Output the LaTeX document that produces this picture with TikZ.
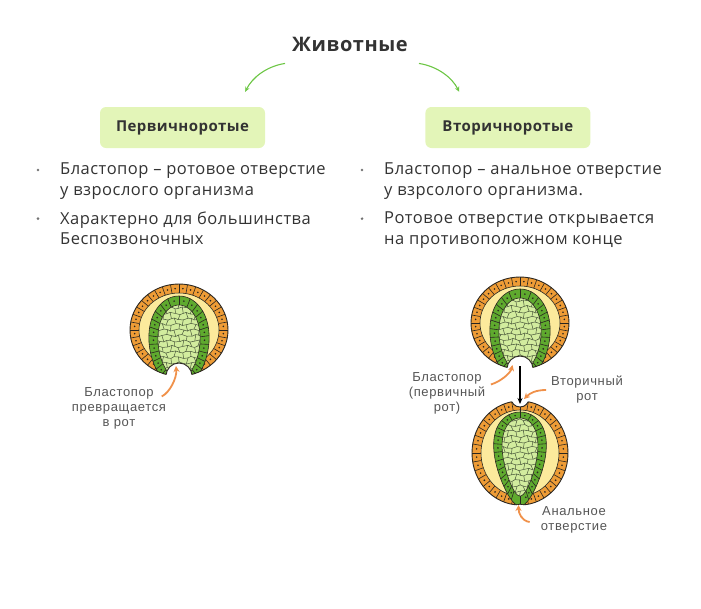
\documentclass[tikz,border=0pt]{standalone}
\usepackage{fontspec}
\setmainfont{Open Sans}[LetterSpace=3]
\newfontfamily\labfont{Liberation Sans}[LetterSpace=5]
\usetikzlibrary{arrows.meta,positioning}

\definecolor{ectoc}{HTML}{EE9C36}
\definecolor{blastc}{HTML}{FCEA9C}
\definecolor{endoc}{HTML}{5FAA2E}
\definecolor{yolkc}{HTML}{D2EC9E}
\definecolor{linec}{HTML}{2A2620}
\definecolor{meshc}{HTML}{48563A}
\definecolor{boxc}{HTML}{E3F5B8}
\definecolor{leafc}{HTML}{6CC644}
\definecolor{tipc}{HTML}{F0914A}
\definecolor{inkc}{HTML}{333333}
\definecolor{labc}{HTML}{555555}

\newcommand{\greencuts}{-60,-48,-36,-25,-14,-3,8,19,30,42,55,70,90,110,125,138,150,161,172,183,194,205,216,228,240}

\newcommand{\yolkmesh}{%
  \foreach \i in {-7,...,6}{%
    \foreach \j in {-10,...,7}{%
      \pgfmathsetmacro{\xa}{4*\i+1.1*sin(73*\i+151*\j)}%
      \pgfmathsetmacro{\ya}{5.5*\j+1.1*cos(97*\i+61*\j)}%
      \pgfmathsetmacro{\xb}{4*(\i+1)+1.1*sin(73*(\i+1)+151*\j)}%
      \pgfmathsetmacro{\yb}{5.5*\j+1.1*cos(97*(\i+1)+61*\j)}%
      \draw[mesh] (\xa,\ya) -- (\xb,\yb);
      \pgfmathtruncatemacro{\brk}{mod(\i+\j+100,2)}%
      \ifnum\brk=0
        \pgfmathsetmacro{\xc}{4*\i+1.1*sin(73*\i+151*(\j+1))}%
        \pgfmathsetmacro{\yc}{5.5*(\j+1)+1.1*cos(97*\i+61*(\j+1))}%
        \draw[mesh] (\xa,\ya) -- (\xc,\yc);
      \fi
    }}}

\begin{document}
\begin{tikzpicture}[x=1pt,y=-1pt,
  wall/.style={draw=linec, line width=0.6pt},
  rim/.style={draw=linec, line width=0.9pt},
  mesh/.style={draw=meshc, line width=0.5pt},
  kind/.style={fill=boxc, rounded corners=6pt, minimum width=165pt, minimum height=41pt,
    text=inkc, font=\fontsize{15}{18}\selectfont\bfseries},
  txt/.style={anchor=north west, align=left, inner sep=0pt, text=inkc,
    font=\fontsize{16.5}{20.5}\selectfont},
  dot/.style={circle, fill=gray!90!black, inner sep=0pt, minimum size=2.8pt},
  lab/.style={align=center, inner sep=0pt, text=labc, font=\labfont\fontsize{13}{15}\selectfont},
  sprout/.style={draw=leafc, line width=1.1pt, -{Stealth[length=5pt,width=4.5pt]}},
  hint/.style={draw=tipc, line width=1.8pt, -{Stealth[length=6pt,width=6pt]}},
  pass/.style={draw=black, line width=1.1pt, -{Stealth[length=6pt,width=5pt]}},
  pics/cupembryo/.style={code={
    \begin{scope}[yscale=-1]
      \coordinate (-bp) at (0,-33);
      \begin{scope}
        \clip (0,0) ellipse [x radius=49, y radius=46];
        \fill[ectoc] (0,0) ellipse [x radius=49, y radius=46];
        \foreach \t in {-70,-60,...,250}
          \draw[wall] ({40*cos(\t)},{37*sin(\t)}) -- ({49*cos(\t)},{46*sin(\t)});
        \foreach \t in {-65,-55,...,245}
          \fill[linec] ({44.5*cos(\t)},{41.5*sin(\t)}) circle [radius=0.9];
        \filldraw[wall, fill=blastc] (0,0) ellipse [x radius=40, y radius=37];
        \filldraw[wall, fill=endoc] plot[variable=\t, domain=0:360, samples=73]
          ({30*cos(\t)*(1+0.1*sin(\t))},{-12+46*sin(\t)}) -- cycle;
        \foreach \t [remember=\t as \tp (initially -72)] in \greencuts {
          \draw[wall] ({21*cos(\t)*(1+0.1*sin(\t))},{-12+37*sin(\t)})
            -- ({30*cos(\t)*(1+0.1*sin(\t))},{-12+46*sin(\t)});
          \fill[linec] ({25.5*cos((\t+\tp)/2)*(1+0.1*sin((\t+\tp)/2))},{-12+41.5*sin((\t+\tp)/2)})
            circle [radius=0.9];
        }
        \filldraw[wall, fill=yolkc] plot[variable=\t, domain=0:360, samples=73]
          ({21*cos(\t)*(1+0.1*sin(\t))},{-12+37*sin(\t)}) -- cycle;
        \clip plot[variable=\t, domain=0:360, samples=73]
          ({21*cos(\t)*(1+0.1*sin(\t))},{-12+37*sin(\t)}) -- cycle;
        \yolkmesh
      \end{scope}
      \draw[rim] (0,0) ellipse [x radius=49, y radius=46];
      \fill[white] (0,-46) circle [radius=13];
      \begin{scope}
        \clip (0,0) ellipse [x radius=49, y radius=46];
        \draw[rim] (0,-46) circle [radius=13];
      \end{scope}
    \end{scope}
  }}
]
\useasboundingbox (0,0) rectangle (701,608);

% heading and the two groups
\node[font=\fontsize{20}{24}\selectfont\bfseries, text=inkc, inner sep=0pt] (title) at (350,44) {Животные};
\node[kind] (prot) at (182.5,127.5) {Первичноротые};
\node[kind, right=160pt of prot] (deut) {Вторичноротые};
\draw[sprout] ([shift={(-7,12)}]title.south west) .. controls +(-19,3) and +(7,-14) .. ([shift={(-20,-15)}]prot.north east);
\draw[sprout] ([shift={(11,12)}]title.south east) .. controls +(19,3) and +(-7,-14) .. ([shift={(34,-15)}]deut.north west);

% bullet texts
\node[txt] (t1) at (60,163) {Бластопор – ротовое отверстие\\у взрослого организма};
\node[txt, below right=12pt and 0pt of t1.south west] (t2) {Характерно для большинства\\Беспозвоночных};
\node[txt] (t3) at (384,163) {Бластопор – анальное отверстие\\у взрсолого организма.};
\node[txt, below right=12pt and 0pt of t3.south west] (t4) {Ротовое отверстие открывается\\на противоположном конце};
\node[dot] (b1) at ([shift={(-22,7)}]t1.north west) {};
\node[dot] (b2) at ([shift={(-22,7)}]t2.north west) {};
\node[dot] (b3) at ([shift={(-22,7)}]t3.north west) {};
\node[dot] (b4) at ([shift={(-22,7)}]t4.north west) {};

% embryos
\pic (emb1) at (179,330) {cupembryo};
\pic (emb2) at (520,323) {cupembryo};

\begin{scope}[shift={(520,453)}, yscale=-1]
  \coordinate (mouth2) at (0,46);
  \coordinate (anus2) at (0,-50);
  \begin{scope}
    \clip (0,0) ellipse [x radius=48, y radius=52];
    \fill[ectoc] (0,0) ellipse [x radius=48, y radius=52];
    \foreach \t in {0,10,...,350}
      \draw[wall] ({39*cos(\t)},{43*sin(\t)}) -- ({48*cos(\t)},{52*sin(\t)});
    \foreach \t in {5,15,...,355}
      \fill[linec] ({43.5*cos(\t)},{47.5*sin(\t)}) circle [radius=0.9];
    \filldraw[wall, fill=blastc] (0,0) ellipse [x radius=39, y radius=43];
    \filldraw[wall, fill=endoc] plot[variable=\t, domain=0:360, samples=73]
      ({25*cos(\t)*(1+0.35*sin(\t))},{-6+47*sin(\t)}) -- cycle;
    \foreach \t [remember=\t as \tp (initially -72)] in \greencuts {
      \draw[wall] ({17*cos(\t)*(1+0.35*sin(\t))},{-4+39*sin(\t)})
        -- ({25*cos(\t)*(1+0.35*sin(\t))},{-6+47*sin(\t)});
      \fill[linec] ({21*cos((\t+\tp)/2)*(1+0.35*sin((\t+\tp)/2))},{-5+43*sin((\t+\tp)/2)})
        circle [radius=0.9];
    }
    \filldraw[wall, fill=yolkc] plot[variable=\t, domain=0:360, samples=73]
      ({17*cos(\t)*(1+0.35*sin(\t))},{-4+39*sin(\t)}) -- cycle;
    \clip plot[variable=\t, domain=0:360, samples=73]
      ({17*cos(\t)*(1+0.35*sin(\t))},{-4+39*sin(\t)}) -- cycle;
    \yolkmesh
  \end{scope}
  \draw[rim] (0,0) ellipse [x radius=48, y radius=52];
  \fill[white] (0,55) circle [radius=9];
  \fill[white] (0,-56) circle [radius=5];
  \begin{scope}
    \clip (0,0) ellipse [x radius=48, y radius=52];
    \draw[rim] (0,55) circle [radius=9];
    \draw[rim] (0,-56) circle [radius=5];
  \end{scope}
  \draw[wall] (0,46) -- (0,37);
  \draw[wall] (0,-51) -- (0,-43);
\end{scope}

% labels and pointers
\node[lab] (lab1) at (119,408) {Бластопор\\превращается\\в рот};
\node[lab] (lab2) at (447,393) {Бластопор\\(первичный\\рот)};
\node[lab] (lab3) at (587,390) {Вторичный\\рот};
\node[lab] (lab4) at (574,520) {Анальное\\отверстие};
\draw[hint] ([shift={(-4.5,9.5)}]lab1.north east) .. controls +(8,-4) and +(1,12) .. ([shift={(-3,3)}]emb1-bp);
\draw[hint] ([shift={(5.5,12.5)}]lab2.north east) .. controls +(10,-3) and +(-2,8) .. ([shift={(-7.5,9)}]emb2-bp);
\draw[hint] ([shift={(-5,0)}]lab3.west) .. controls +(-10,0) and +(6,-6) .. ([shift={(4,-8)}]mouth2);
\draw[hint] ([shift={(-11,2)}]lab4.west) .. controls +(-8,-1) and +(0,8) .. ([shift={(-1.5,2)}]anus2);
\draw[pass] ([shift={(0,10)}]emb2-bp) -- ([shift={(0,-3)}]mouth2);
\end{tikzpicture}
\end{document}
